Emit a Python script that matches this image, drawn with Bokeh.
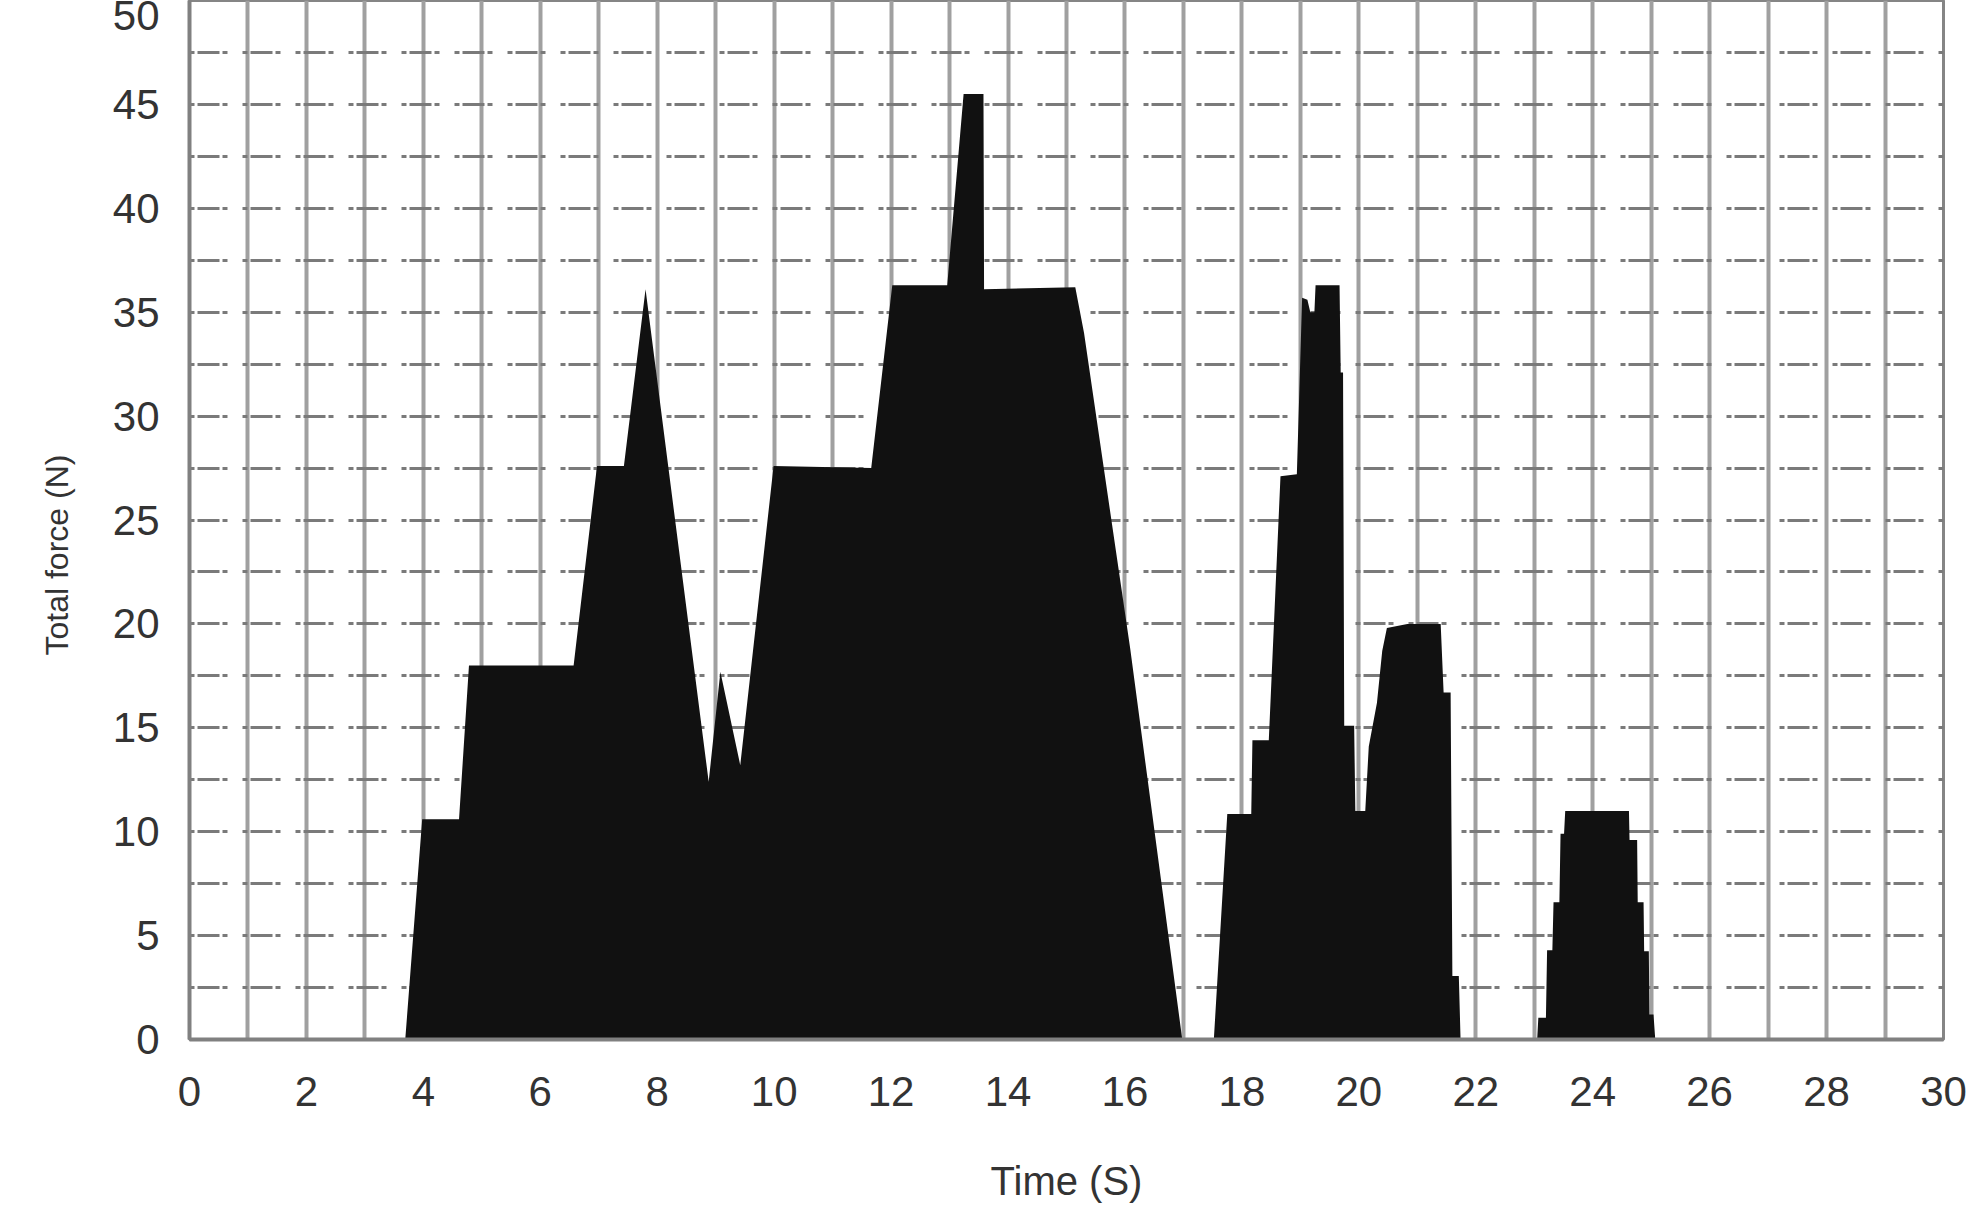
from bokeh.plotting import figure
from bokeh.models import Range1d, FixedTicker, Label, Title
from bokeh.embed import file_html
from bokeh.resources import INLINE

# ---- data (time in s, total force in N) ----
time_s = [0, 3.69, 3.98, 4.61, 4.78, 6.57, 6.97, 7.43, 7.80, 8.88, 9.08, 9.42, 9.99, 11.66, 12.02,
          12.96, 13.24, 13.58, 13.59, 15.15, 15.30, 16.09, 16.98,
          17.52, 17.75, 18.16, 18.18, 18.46, 18.66, 18.94, 19.03, 19.12, 19.17, 19.24, 19.26, 19.67,
          19.69, 19.73, 19.75, 19.92, 19.94, 20.11, 20.17, 20.31, 20.40, 20.48, 20.83, 21.40, 21.45,
          21.57, 21.60, 21.71, 21.74,
          23.05, 23.07, 23.20, 23.22, 23.31, 23.33, 23.43, 23.45, 23.51, 23.53, 24.62, 24.63, 24.76,
          24.77, 24.87, 24.88, 24.96, 24.97, 25.04, 25.07, 30]
force_n = [0, 0, 10.6, 10.6, 18.0, 18.0, 27.6, 27.6, 36.1, 12.4, 17.7, 13.2, 27.6, 27.5, 36.3,
           36.3, 45.5, 45.5, 36.1, 36.2, 34.0, 18.8, 0,
           0, 10.85, 10.85, 14.4, 14.4, 27.1, 27.2, 35.7, 35.6, 35.0, 35.0, 36.3, 36.3,
           32.1, 32.1, 15.1, 15.1, 11.0, 11.0, 14.1, 16.2, 18.7, 19.8, 20.0, 20.0, 16.7,
           16.7, 3.05, 3.05, 0,
           0, 1.05, 1.05, 4.3, 4.3, 6.6, 6.6, 9.9, 9.9, 11.0, 11.0, 9.6, 9.6,
           6.6, 6.6, 4.25, 4.25, 1.2, 1.2, 0, 0]

x_ticks = [0, 2, 4, 6, 8, 10, 12, 14, 16, 18, 20, 22, 24, 26, 28, 30]
x_grid = [0, 1, 2, 3, 4, 5, 6, 7, 8, 9, 10, 11, 12, 13, 14, 15, 16, 17, 18, 19, 20,
          21, 22, 23, 24, 25, 26, 27, 28, 29, 30]
y_ticks = [0, 5, 10, 15, 20, 25, 30, 35, 40, 45, 50]
y_grid = [0, 2.5, 5, 7.5, 10, 12.5, 15, 17.5, 20, 22.5, 25, 27.5, 30, 32.5, 35, 37.5,
          40, 42.5, 45, 47.5, 50]

FONT = "Liberation Sans"

p = figure(width=1978, height=1205, x_range=Range1d(0, 30), y_range=Range1d(0, 50),
           output_backend="svg", toolbar_location=None,
           min_border_left=189, min_border_right=35, min_border_top=0, min_border_bottom=163)
p.background_fill_color = "white"
p.border_fill_color = "white"
p.outline_line_color = "#858585"
p.outline_line_width = 3

# grids
p.xgrid.ticker = FixedTicker(ticks=x_grid)
p.xgrid.grid_line_color = "#a0a0a0"
p.xgrid.grid_line_width = 4
p.ygrid.ticker = FixedTicker(ticks=y_grid)
p.ygrid.grid_line_color = "#7a7a7a"
p.ygrid.grid_line_width = 3
p.ygrid.grid_line_dash = "5 3 22 3 5 15"

# the force area
p.varea(x=time_s, y1=0, y2=force_n, fill_color="#111111")

# axes
for ax in (p.xaxis[0], p.yaxis[0]):
    ax.axis_line_color = "#808080"
    ax.axis_line_width = 4
    ax.major_tick_line_color = None
    ax.minor_tick_line_color = None
    ax.major_tick_out = 0
    ax.major_tick_in = 0
    ax.major_label_text_font = FONT
    ax.major_label_text_font_size = "42px"
    ax.major_label_text_color = "#333333"
    ax.axis_label_text_font = FONT
    ax.axis_label_text_font_style = "normal"
    ax.axis_label_text_color = "#333333"

p.xaxis.ticker = FixedTicker(ticks=x_ticks)
p.yaxis.ticker = FixedTicker(ticks=y_ticks)
p.xaxis.major_label_standoff = 37
p.yaxis.major_label_standoff = 30
p.xaxis.axis_label = "Time (S)"
p.xaxis.axis_label_text_font_size = "40px"
p.xaxis.axis_label_standoff = 50

# y-axis title as a left-side title, so that it can sit a bit below the centre as in the reference
p.add_layout(Title(text="Total force (N)", align="left", offset=384, standoff=66,
                   vertical_align="top",
                   text_font=FONT, text_font_size="32px", text_font_style="normal",
                   text_color="#333333"), "left")

# panel letter
p.add_layout(Label(x=-161, y=1024, x_units="screen", y_units="screen", text="a",
                   text_font=FONT, text_font_style="bold", text_font_size="40px",
                   text_color="#111111", text_baseline="alphabetic"))

open("out.html", "w").write(file_html(p, INLINE))
